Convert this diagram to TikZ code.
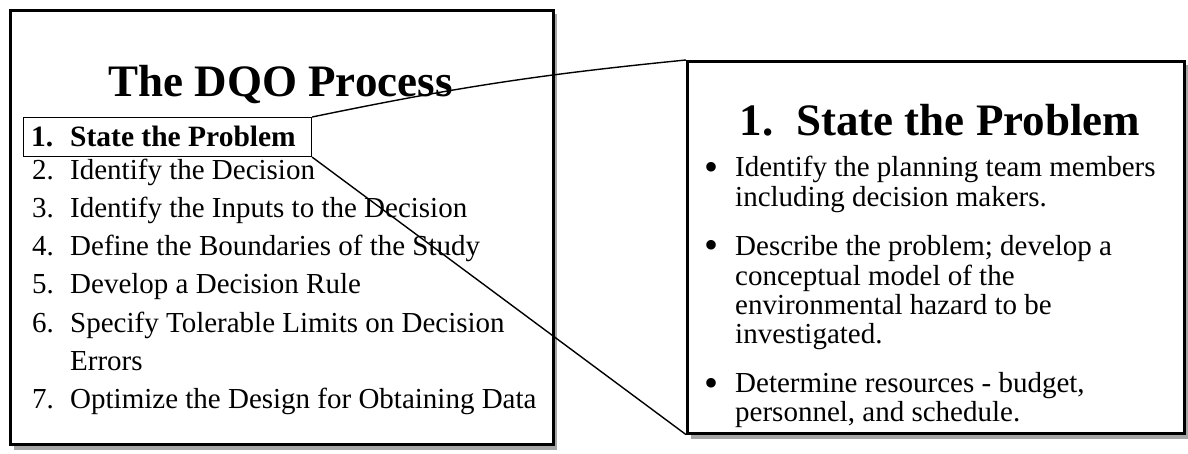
\documentclass[tikz,border=0pt]{standalone}
\usepackage{fontspec}
\setmainfont{Liberation Serif}
\begin{document}
\begin{tikzpicture}[x=1pt,y=-1pt,
  frame/.style={draw=black,line width=2.6pt,fill=white,inner sep=0pt,anchor=north west},
  shadow/.style={fill=black!35},
  selbox/.style={draw=black,line width=1.1pt,inner sep=0pt,anchor=north west},
  link/.style={draw=black,line width=1.4pt},
  head/.style={anchor=base,inner sep=0pt,font=\fontsize{45}{52}\selectfont\bfseries},
  num/.style={anchor=base west,inner sep=0pt,font=\fontsize{29}{34}\selectfont},
  txt/.style={anchor=base west,inner sep=0pt,font=\fontsize{29}{34}\selectfont},
  dot/.style={anchor=base west,inner sep=0pt,font=\fontsize{40}{40}\selectfont},
  btxt/.style={anchor=base west,inner sep=0pt,font=\fontsize{29}{31}\selectfont}]
\useasboundingbox (0,0) rectangle (1188,454);
% Shadows
\fill[shadow] (14,14) rectangle (557,450);
\fill[shadow] (691,65) rectangle (1188,439);
% Boxes
\node[frame,minimum width=543pt,minimum height=434pt] (dqo) at (9,9) {};
\node[frame,minimum width=497pt,minimum height=372pt] (zoom) at (686,60) {};
\node[selbox,minimum width=288pt,minimum height=39pt] (sel) at (23,117) {};
% The DQO Process
\node[head] (title) at (280.5,97) {The DQO Process};
\node[num,font=\fontsize{29.5}{34}\selectfont\bfseries] (n1) at (31,147) {1.};
\node[txt,font=\fontsize{29.5}{34}\selectfont\bfseries] (t1) at (70,147) {State the Problem};
\node[num] (n2) at (32,180) {2.};
\node[txt] (t2) at (70,180) {Identify the Decision};
\node[num] (n3) at (32,218) {3.};
\node[txt] (t3) at (70,218) {Identify the Inputs to the Decision};
\node[num] (n4) at (32,256) {4.};
\node[txt] (t4) at (70,256) {Define the Boundaries of the Study};
\node[num] (n5) at (32,294) {5.};
\node[txt] (t5) at (70,294) {Develop a Decision Rule};
\node[num] (n6) at (32,332) {6.};
\node[txt] (t6) at (70,332) {Specify Tolerable Limits on Decision};
\node[txt] (t6b) at (70,370) {Errors};
\node[num] (n7) at (32,408) {7.};
\node[txt] (t7) at (70,408) {Optimize the Design for Obtaining Data};
% 1. State the Problem
\node[head] (ztitle) at (940,136) {1.\ \ State the Problem};
\node[dot] (b1) at (704,181) {\textbullet};
\node[btxt] (z1) at (735,177) {Identify the planning team members};
\node[btxt] (z1b) at (735,207) {including decision makers.};
\node[dot] (b2) at (704,259) {\textbullet};
\node[btxt] (z2) at (735,255) {Describe the problem; develop a};
\node[btxt] (z2b) at (735,285) {conceptual model of the};
\node[btxt] (z2c) at (735,314) {environmental hazard to be};
\node[btxt] (z2d) at (735,343) {investigated.};
\node[dot] (b3) at (704,396) {\textbullet};
\node[btxt] (z3) at (735,392) {Determine resources - budget,};
\node[btxt] (z3b) at (735,421) {personnel, and schedule.};
% Connectors
\draw[link] (sel.north east) to[bend left=3] (zoom.north west);
\draw[link] (sel.south east) -- (zoom.south west);
\end{tikzpicture}
\end{document}
